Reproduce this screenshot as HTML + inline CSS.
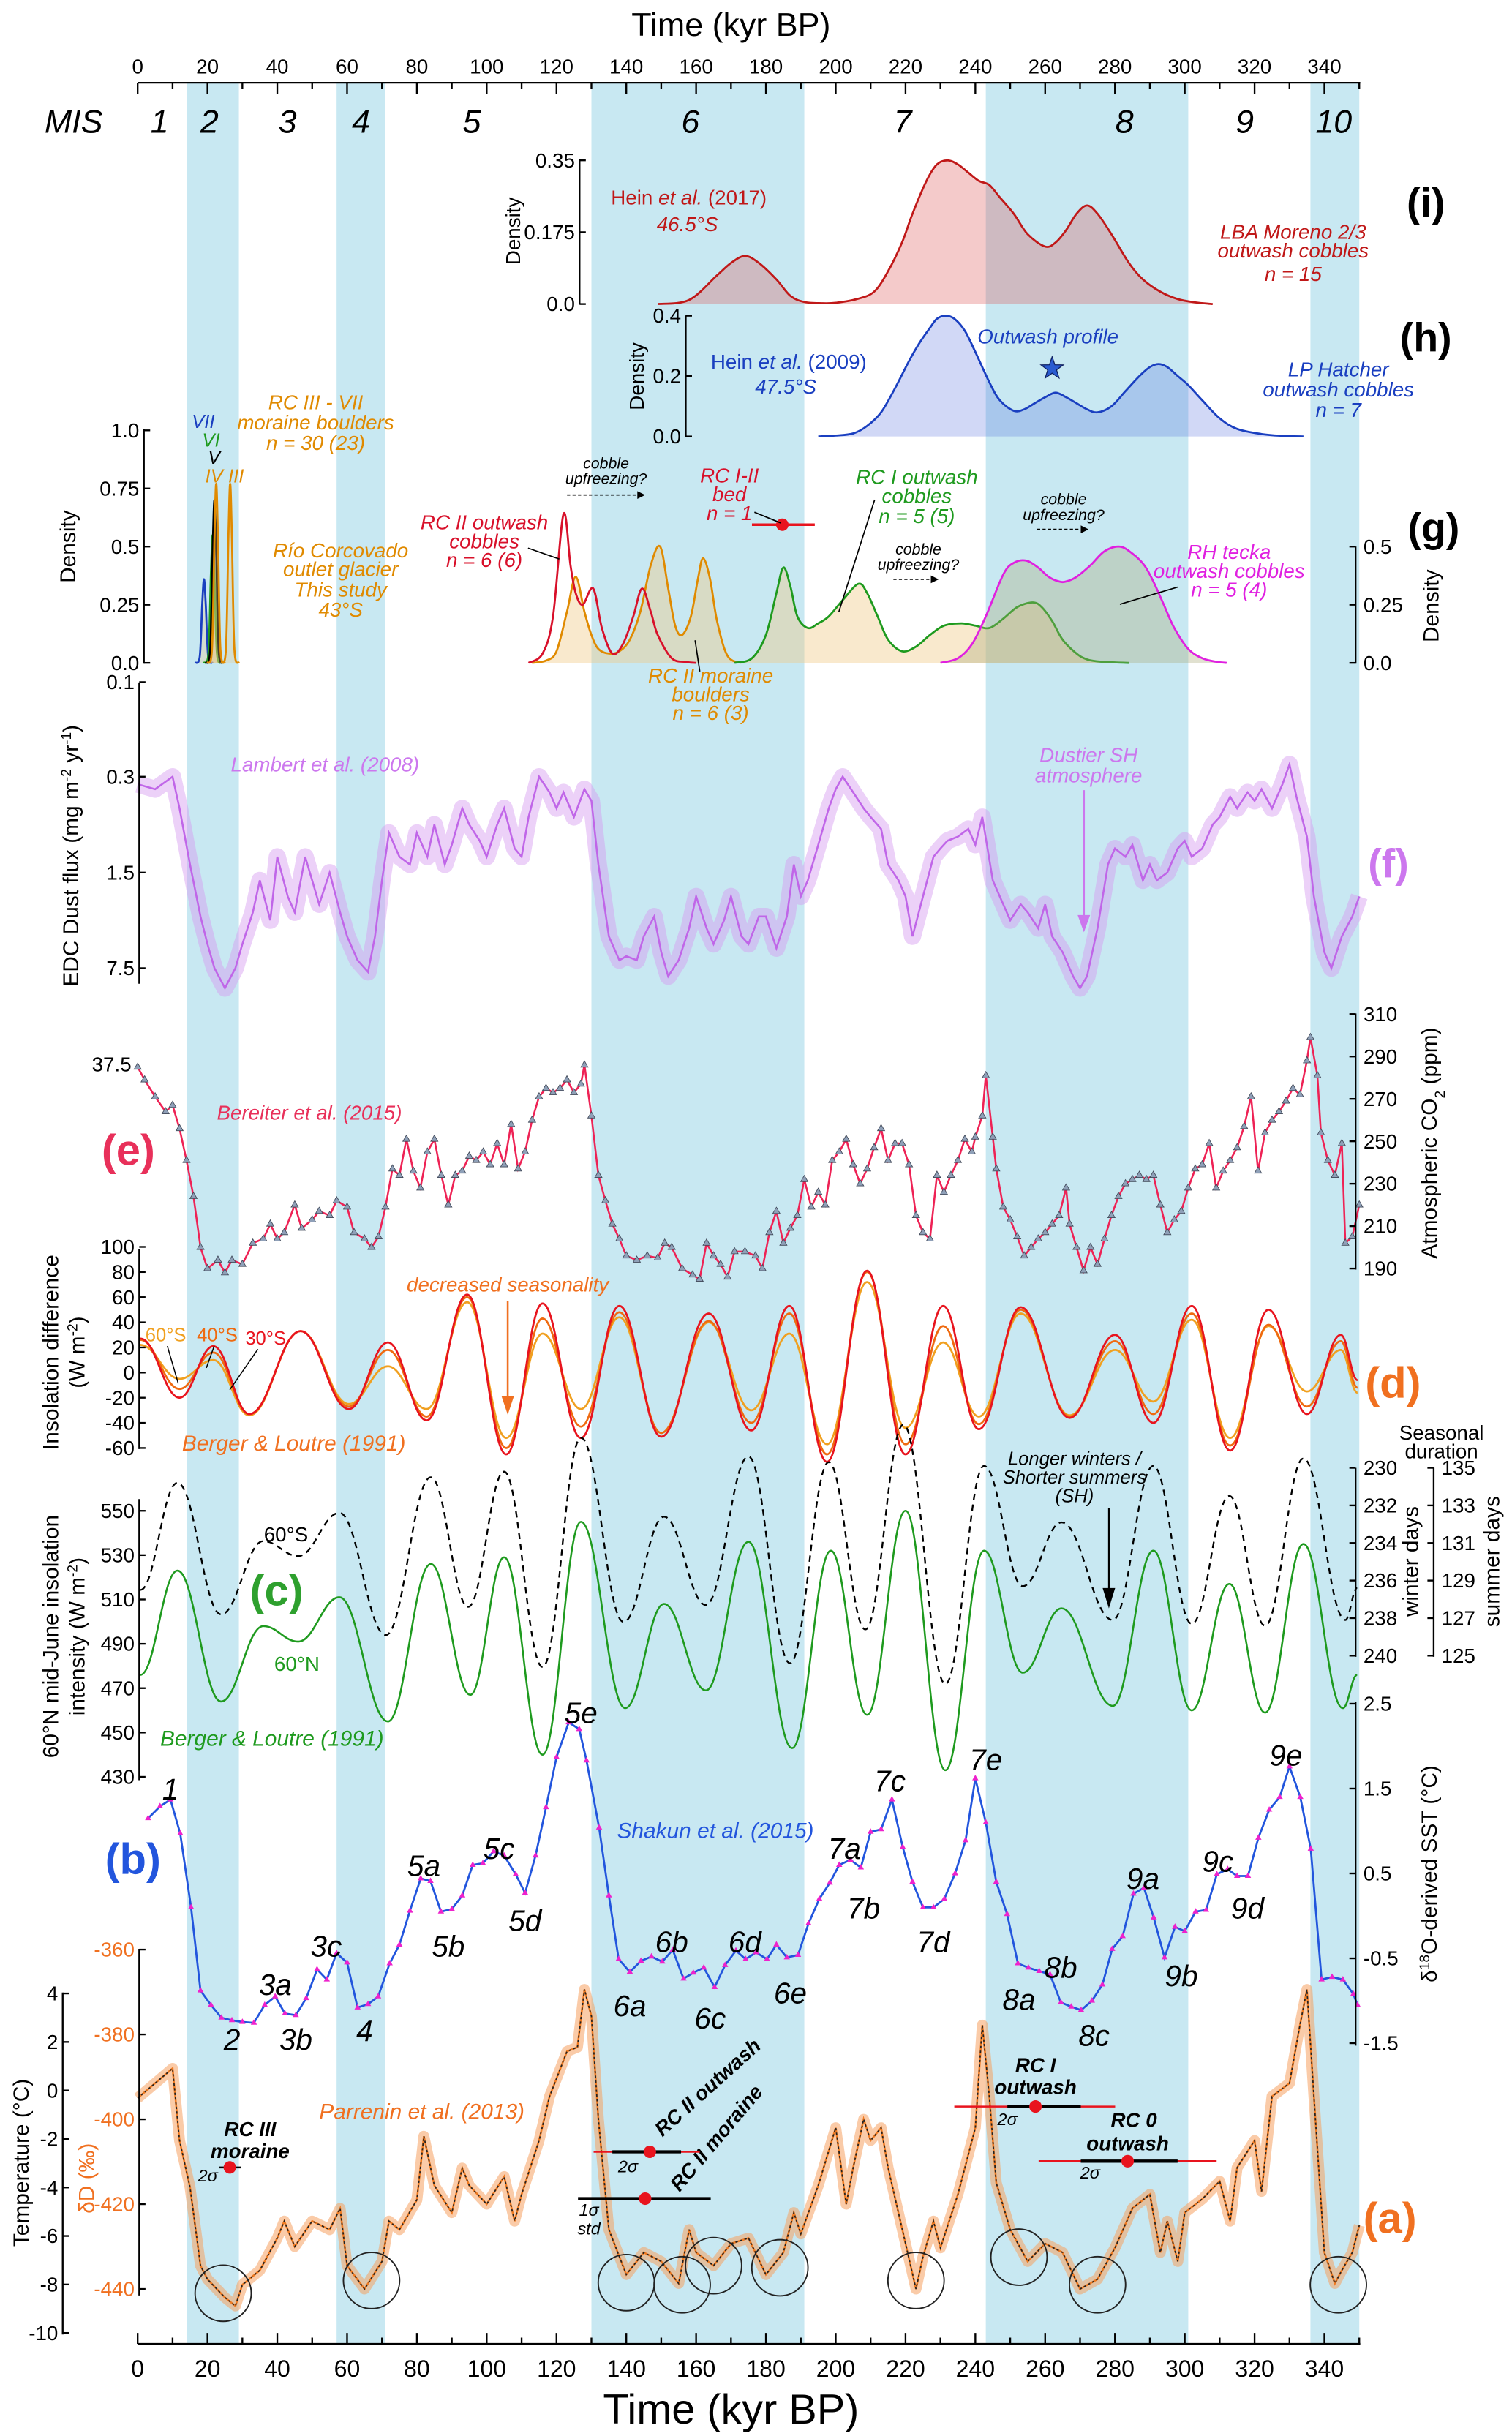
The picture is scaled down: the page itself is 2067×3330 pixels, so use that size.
<!DOCTYPE html>
<html><head><meta charset="utf-8"><style>
html,body{margin:0;padding:0;background:#fff;}
svg{display:block;font-family:"Liberation Sans Narrow","Liberation Sans",sans-serif;}
.it{font-style:italic}
.b{font-weight:bold}
</style></head><body>
<svg id="fig" width="2067" height="3330" viewBox="0 0 968 1560" xmlns="http://www.w3.org/2000/svg">
<g id="bands"></g>
<g id="plots"></g>
<g id="axes"></g>
<g id="txt" font-size="13">
 <text x="468" y="23" font-size="21" text-anchor="middle">Time (kyr BP)</text>
 <text x="468" y="1552" font-size="27" text-anchor="middle">Time (kyr BP)</text>
 <g class="it" font-size="21" text-anchor="middle">
  <text x="47" y="85">MIS</text><text x="102" y="85">1</text><text x="134" y="85">2</text><text x="184" y="85">3</text><text x="231" y="85">4</text><text x="302" y="85">5</text><text x="442" y="85">6</text><text x="578" y="85">7</text><text x="720" y="85">8</text><text x="797" y="85">9</text><text x="854" y="85">10</text>
 </g>
 <text x="441" y="131" fill="#c01818" text-anchor="middle">Hein <tspan class="it">et al.</tspan> (2017)</text>
 <text x="440" y="148" fill="#c01818" class="it" text-anchor="middle">46.5°S</text>
 <text x="828" y="153" fill="#c01818" class="it" text-anchor="middle">LBA Moreno 2/3</text>
 <text x="828" y="165" fill="#c01818" class="it" text-anchor="middle">outwash cobbles</text>
 <text x="828" y="180" fill="#c01818" class="it" text-anchor="middle">n = 15</text>
 <text x="913" y="139" font-size="26" class="b" text-anchor="middle">(i)</text>
 <text transform="translate(333,148) rotate(-90)" text-anchor="middle">Density</text>
 <text x="505" y="236" fill="#1a3fc0" text-anchor="middle">Hein <tspan class="it">et al.</tspan> (2009)</text>
 <text x="503" y="252" fill="#1a3fc0" class="it" text-anchor="middle">47.5°S</text>
 <text x="671" y="220" fill="#1a3fc0" class="it" text-anchor="middle">Outwash profile</text>
 <text x="857" y="241" fill="#1a3fc0" class="it" text-anchor="middle">LP Hatcher</text>
 <text x="857" y="254" fill="#1a3fc0" class="it" text-anchor="middle">outwash cobbles</text>
 <text x="857" y="267" fill="#1a3fc0" class="it" text-anchor="middle">n = 7</text>
 <text x="913" y="225" font-size="26" class="b" text-anchor="middle">(h)</text>
 <text transform="translate(412,241) rotate(-90)" text-anchor="middle">Density</text>
 <g class="it" font-size="12" text-anchor="middle">
 <text x="130" y="274" fill="#1a3fc0">VII</text><text x="135" y="286" fill="#1e9a1e">VI</text><text x="137" y="297" fill="#000">V</text><text x="137" y="309" fill="#e08a00">IV</text><text x="151" y="309" fill="#e08a00">III</text>
 </g>
 <g class="it" fill="#e08a00" text-anchor="middle">
  <text x="202" y="262">RC III - VII</text><text x="202" y="275">moraine boulders</text><text x="202" y="288">n = 30 (23)</text>
  <text x="218" y="357">Río Corcovado</text><text x="218" y="369">outlet  glacier</text><text x="218" y="382">This study</text><text x="218" y="395">43°S</text>
  <text x="455" y="437">RC II moraine</text><text x="455" y="449">boulders</text><text x="455" y="461">n = 6 (3)</text>
 </g>
 <g class="it" fill="#d8102a" text-anchor="middle">
  <text x="310" y="339">RC II outwash</text><text x="310" y="351">cobbles</text><text x="310" y="363">n = 6 (6)</text>
  <text x="467" y="309">RC I-II</text><text x="467" y="321">bed</text><text x="467" y="333">n = 1</text>
 </g>
 <g class="it" fill="#1e9a1e" text-anchor="middle"><text x="587" y="310">RC I outwash</text><text x="587" y="322">cobbles</text><text x="587" y="335">n = 5 (5)</text></g>
 <g class="it" fill="#e020e0" text-anchor="middle"><text x="787" y="358">RH tecka</text><text x="787" y="370">outwash cobbles</text><text x="787" y="382">n = 5 (4)</text></g>
 <g class="it" font-size="10" text-anchor="middle">
  <text x="388" y="300">cobble</text><text x="388" y="310">upfreezing?</text>
  <text x="588" y="355">cobble</text><text x="588" y="365">upfreezing?</text>
  <text x="681" y="323">cobble</text><text x="681" y="333">upfreezing?</text>
 </g>
 <g stroke="#000" stroke-width="0.8" stroke-dasharray="2,1.5" fill="none"><line x1="363" y1="317" x2="409" y2="317"/><line x1="572" y1="371" x2="597" y2="371"/><line x1="664" y1="339" x2="693" y2="339"/></g>
 <g fill="#000"><path d="M413 317 l-5 -2.5 v5z"/><path d="M601 371 l-5 -2.5 v5z"/><path d="M697 339 l-5 -2.5 v5z"/></g>
 <g stroke="#000" stroke-width="0.8" fill="none"><line x1="338" y1="351" x2="358" y2="358"/><line x1="483" y1="328" x2="500" y2="335"/><line x1="560" y1="320" x2="537" y2="392"/><line x1="754" y1="376" x2="717" y2="387"/><line x1="448" y1="430" x2="445" y2="410"/></g>
 <text x="918" y="347" font-size="26" class="b" text-anchor="middle">(g)</text>
 <text transform="translate(48,350) rotate(-90)" text-anchor="middle" font-size="14">Density</text>
 <text transform="translate(921,388) rotate(-90)" text-anchor="middle" font-size="14">Density</text>
 <text x="208" y="494" fill="#cc77ee" class="it" text-anchor="middle">Lambert et al. (2008)</text>
 <text x="697" y="488" fill="#cc77ee" class="it" text-anchor="middle">Dustier SH</text>
 <text x="697" y="501" fill="#cc77ee" class="it" text-anchor="middle">atmosphere</text>
 <line x1="694" y1="506" x2="694" y2="588" stroke="#cc77ee" stroke-width="1.2"/><path d="M694 597 l-4 -11 h8z" fill="#cc77ee"/>
 <text x="889" y="562" font-size="26" class="b" fill="#cc77ee" text-anchor="middle">(f)</text>
 <text transform="translate(50,548) rotate(-90)" text-anchor="middle" font-size="14">EDC Dust flux (mg m<tspan baseline-shift="super" font-size="9">-2</tspan> yr<tspan baseline-shift="super" font-size="9">-1</tspan>)</text>
 <text x="198" y="717" fill="#e8305a" class="it" text-anchor="middle">Bereiter et al. (2015)</text>
 <text x="82" y="746" font-size="28" class="b" fill="#e8305a" text-anchor="middle">(e)</text>
 <text x="84" y="686" font-size="13" text-anchor="end">37.5</text>
 <text transform="translate(920,732) rotate(-90)" text-anchor="middle" font-size="14">Atmospheric CO<tspan baseline-shift="sub" font-size="9">2</tspan> (ppm)</text>
 <text x="325" y="827" fill="#f07020" class="it" text-anchor="middle">decreased seasonality</text>
 <line x1="325" y1="833" x2="325" y2="895" stroke="#f07020" stroke-width="1.2"/><path d="M325 906 l-4 -12 h8z" fill="#f07020"/>
 <text x="188" y="929" fill="#f07020" class="it" text-anchor="middle" font-size="14">Berger &amp; Loutre (1991)</text>
 <text x="106" y="859" fill="#f0a020" font-size="12" text-anchor="middle">60°S</text>
 <text x="139" y="859" fill="#ef6a10" font-size="12" text-anchor="middle">40°S</text>
 <text x="170" y="861" fill="#e8141e" font-size="12" text-anchor="middle">30°S</text>
 <g stroke="#000" stroke-width="0.7"><line x1="107" y1="862" x2="114" y2="886"/><line x1="137" y1="862" x2="132" y2="876"/><line x1="165" y1="864" x2="147" y2="890"/></g>
 <text x="892" y="895" font-size="28" class="b" fill="#f07020" text-anchor="middle">(d)</text>
 <text transform="translate(37,866) rotate(-90)" text-anchor="middle" font-size="14">Insolation difference</text>
 <text transform="translate(54,866) rotate(-90)" text-anchor="middle" font-size="14">(W m<tspan baseline-shift="super" font-size="9">-2</tspan>)</text>
 <text x="183" y="987" font-size="13" text-anchor="middle">60°S</text>
 <text x="190" y="1070" font-size="13" fill="#1e9a1e" text-anchor="middle">60°N</text>
 <text x="174" y="1118" fill="#1e9a1e" class="it" text-anchor="middle" font-size="14">Berger &amp; Loutre (1991)</text>
 <text x="177" y="1028" font-size="28" class="b" fill="#2ea02e" text-anchor="middle">(c)</text>
 <g class="it" font-size="12" text-anchor="middle"><text x="688" y="938">Longer winters /</text><text x="688" y="950">Shorter summers</text><text x="688" y="962">(SH)</text></g>
 <line x1="710" y1="966" x2="710" y2="1018" stroke="#000" stroke-width="1"/><path d="M710 1030 l-4 -13 h8z" fill="#000"/>
 <text x="923" y="922" font-size="13" text-anchor="middle">Seasonal</text><text x="923" y="934" font-size="13" text-anchor="middle">duration</text>
 <text transform="translate(908,1000) rotate(-90)" text-anchor="middle" font-size="14">winter days</text>
 <text transform="translate(960,1000) rotate(-90)" text-anchor="middle" font-size="14">summer days</text>
 <text transform="translate(37,1048) rotate(-90)" text-anchor="middle" font-size="14">60°N mid-June insolation</text>
 <text transform="translate(54,1048) rotate(-90)" text-anchor="middle" font-size="14">intensity (W m<tspan baseline-shift="super" font-size="9">-2</tspan>)</text>
 <text x="458" y="1177" fill="#2255dd" class="it" text-anchor="middle" font-size="14">Shakun et al. (2015)</text>
 <text x="85" y="1200" font-size="28" class="b" fill="#2255dd" text-anchor="middle">(b)</text>
 <text transform="translate(920,1200) rotate(-90)" text-anchor="middle" font-size="14">δ<tspan baseline-shift="super" font-size="9">18</tspan>O-derived SST (°C)</text>
 <g id="mis-sub" class="it" font-size="19" text-anchor="middle"></g>
 <text x="270" y="1357" fill="#f07020" class="it" text-anchor="middle" font-size="14">Parrenin et al. (2013)</text>
 <text x="890" y="1430" font-size="28" class="b" fill="#f07020" text-anchor="middle">(a)</text>
 <text transform="translate(18,1385) rotate(-90)" text-anchor="middle" font-size="14">Temperature (°C)</text>
 <text transform="translate(60,1395) rotate(-90)" text-anchor="middle" font-size="14" fill="#f07020">δD (‰)</text>
 <g class="it b" font-size="13" text-anchor="middle">
  <text x="160" y="1368">RC III</text><text x="160" y="1382">moraine</text>
  <text x="663" y="1327">RC I</text><text x="663" y="1341">outwash</text>
  <text x="726" y="1362">RC 0</text><text x="722" y="1377">outwash</text>
  <text transform="translate(456,1340) rotate(-42)">RC II outwash</text>
  <text transform="translate(462,1372) rotate(-50)">RC II moraine</text>
 </g>
 <g class="it" font-size="11" text-anchor="middle"><text x="133" y="1397">2σ</text><text x="402" y="1391">2σ</text><text x="377" y="1419">1σ</text><text x="377" y="1431">std</text><text x="645" y="1361">2σ</text><text x="698" y="1395">2σ</text></g>
 <g stroke-width="1.2">
  <line x1="140" y1="1388" x2="154" y2="1388" stroke="#000"/>
  <line x1="380" y1="1378" x2="448" y2="1378" stroke="#e8141e"/><line x1="392" y1="1378" x2="436" y2="1378" stroke="#000" stroke-width="2"/>
  <line x1="370" y1="1408" x2="455" y2="1408" stroke="#000" stroke-width="2"/>
  <line x1="611" y1="1349" x2="714" y2="1349" stroke="#e8141e"/><line x1="645" y1="1349" x2="692" y2="1349" stroke="#000" stroke-width="2"/>
  <line x1="665" y1="1384" x2="779" y2="1384" stroke="#e8141e"/><line x1="692" y1="1384" x2="754" y2="1384" stroke="#000" stroke-width="2"/>
 </g>
 <g fill="#e8141e"><circle cx="147" cy="1388" r="4"/><circle cx="416" cy="1378" r="4"/><circle cx="413" cy="1408" r="4"/><circle cx="663" cy="1349" r="4"/><circle cx="722" cy="1384" r="4"/></g>
</g>
</svg>
<script>
const bandStart=[14,57,130,243,336];
const bandEnd=[29,71,191,301,350];
const iT=[149,158,166,170,174,178,183,187,191,196,200,206,211,215,219,222,226,229,232,235,238,241,244,247,251,255,260,263,266,269,272,275,279,284,288,293,298,303,308];
const iD=[0,0.01,0.07,0.1,0.117,0.1,0.06,0.02,0.005,0.002,0.003,0.012,0.03,0.08,0.15,0.22,0.3,0.34,0.35,0.34,0.32,0.3,0.29,0.26,0.22,0.17,0.14,0.15,0.18,0.22,0.24,0.22,0.17,0.1,0.06,0.03,0.012,0.004,0];
const hT=[195,200,205,209,213,217,221,224,227,229,231.5,234,237,240,244,247,251,254,257,260,263,266,269,272,275,279,283,287,290,292.5,295,298,301,305,310,315,322,328,334];
const hD=[0,0.003,0.01,0.035,0.08,0.16,0.25,0.31,0.36,0.39,0.4,0.39,0.35,0.28,0.18,0.12,0.085,0.09,0.11,0.13,0.145,0.13,0.11,0.09,0.08,0.1,0.15,0.2,0.23,0.24,0.23,0.2,0.17,0.12,0.06,0.025,0.008,0.002,0];
const gPeakC=[19,21.5,22,22.5,26.5];
const gPeakH=[0.36,0.55,0.70,0.77,0.77];
const gPeakCol=['#1a3fc0','#1e9a1e','#000','#e08a00','#e08a00'];
const gRedT=[112,116,119,122,124,125.5,127.5,130.5,133,136,139,142,144.5,147,149,153,157,160];
const gRedD=[0,0.04,0.2,0.64,0.42,0.3,0.25,0.32,0.15,0.04,0.08,0.2,0.32,0.22,0.12,0.02,0.004,0];
const gOrT=[113,117,120,123,125.5,128,130,132,135,138,141,144,147,149.7,152,154,156,158.5,160.5,162,164,166,169,173];
const gOrD=[0,0.01,0.05,0.22,0.37,0.22,0.12,0.06,0.04,0.05,0.1,0.22,0.42,0.5,0.32,0.16,0.12,0.2,0.36,0.45,0.36,0.18,0.03,0];
const gGrT=[171,176,180,183,185,187,189,192,195,198,202,206.5,209,212,215,219,223,227,231,236,240,244,248,252,256.4,259,262,265,269,272,276,284];
const gGrD=[0,0.02,0.12,0.3,0.41,0.33,0.2,0.15,0.17,0.2,0.27,0.34,0.3,0.2,0.1,0.05,0.07,0.12,0.16,0.17,0.16,0.15,0.19,0.24,0.26,0.24,0.18,0.1,0.04,0.015,0.005,0];
const gMgT=[230,235,239,243,248,251,254.5,258,261,264,266,269,273,277,281.4,285,288.4,291,294,297,301,305,309,312];
const gMgD=[0,0.02,0.08,0.2,0.38,0.43,0.44,0.41,0.37,0.35,0.35,0.37,0.42,0.48,0.5,0.47,0.42,0.35,0.25,0.15,0.06,0.02,0.005,0];
const dustT=[0,5,10,12,15,18,20,22,25,28,30,33,35,38,40,43,45,48,50,52,55,58,60,63,66,68,70,72,75,78,80,83,85,88,90,93,95,98,100,103,105,108,110,112,115,118,120,122,125,128,130,132,135,138,140,143,145,148,150,152,155,158,160,163,165,168,170,173,175,178,180,183,186,188,190,192,195,198,200,202,205,208,210,213,215,218,220,222,225,228,230,232,235,238,240,242,245,248,250,253,255,258,260,262,265,268,270,272,275,278,280,283,285,288,290,292,295,298,300,302,305,308,310,313,315,318,320,322,325,328,330,332,335,337,340,342,345,348,350];
const dustV=[0.34,0.37,0.30,0.51,1.31,3.14,5.0,7.5,10.5,7.5,5.0,2.93,1.71,3.35,1.15,2.24,2.93,1.15,1.71,2.56,1.5,2.93,4.39,6.56,8.0,4.39,1.71,0.77,1.15,1.31,0.77,1.15,0.67,1.31,0.94,0.51,0.67,0.88,1.15,0.67,0.51,1.0,1.15,0.59,0.30,0.39,0.51,0.39,0.59,0.37,0.45,1.31,4.39,6.56,6.13,6.56,4.39,3.14,5.73,8.6,6.56,3.83,2.24,3.83,5.0,3.35,2.24,4.39,5.0,3.14,3.14,5.36,3.14,1.31,2.24,1.71,0.94,0.51,0.37,0.30,0.39,0.51,0.59,0.72,1.31,1.71,2.24,4.39,2.24,1.15,1.0,0.88,0.82,0.72,0.94,0.59,1.71,2.56,3.35,2.56,2.93,3.83,2.56,4.39,5.73,8.6,10.5,8.6,3.83,1.31,1.0,1.15,0.94,1.71,1.31,1.71,1.5,1.0,0.88,1.15,1.0,0.67,0.59,0.42,0.51,0.39,0.45,0.37,0.51,0.34,0.26,0.42,0.82,2.24,5.73,7.5,4.39,3.14,2.24];
const dustTicks=[0.1,0.3,1.5,7.5];
const co2T=[0,2,5,8,10,12,14,16,18,20,23,25,27,30,33,36,38,40,42,45,47,50,52,55,57,60,62,65,67,69,71,73,75,77,79,81,83,85,87,89,91,93,95,97,99,101,103,105,107,109,111,113,115,117,119,121,123,125,127,128,130,132,134,136,138,140,143,146,149,151,153,156,159,161,163,165,167,169,171,174,177,179,181,183,185,187,189,191,193,195,197,199,201,203,205,207,209,211,213,215,217,219,221,223,225,227,229,231,233,235,237,239,240,242,243,245,246,248,250,252,254,256,258,260,262,264,266,267,269,271,273,275,277,279,281,283,285,287,289,291,293,295,297,299,301,303,305,307,309,311,313,315,317,319,321,323,325,327,329,331,333,335,336,338,339,341,343,345,346,348,350];
const co2V=[285,279,271,264,267,256,241,224,200,190,194,188,194,192,202,204,211,204,207,220,209,213,217,215,222,219,207,204,200,205,219,237,234,251,236,228,245,251,234,220,234,236,243,241,245,239,249,239,258,237,245,260,271,275,273,275,279,273,277,286,262,234,222,211,204,196,194,196,195,202,200,190,187,185,202,196,192,186,198,198,196,190,207,217,202,209,215,232,219,226,220,241,245,251,239,230,237,247,256,241,249,249,239,215,207,204,234,226,234,241,251,245,252,262,281,252,237,219,213,205,196,200,204,207,211,215,228,211,200,189,200,192,204,215,224,230,232,234,232,234,220,207,213,217,228,237,239,249,228,236,241,247,257,271,236,254,260,264,269,275,272,288,299,281,254,241,234,249,202,205,220];
const dT=[0.8,12,21.7,32,46.7,60.5,71.7,82.8,94.4,105.6,116,127,138,150,163.6,175.8,186.7,197.5,209,220,230.8,241,253,267,280,291,302,313,324,335,344.7,349.5];
const d30S=[27,-20,21,-33,33,-29,24,-38,62,-65,55,-52,53,-51,47,-46,53,-71,81,-65,53,-45,52,-36,30,-40,53,-62,50,-33,30,-6];
const d40S=[26,-13,16,-33,33,-27,18,-35,60,-60,43,-43,48,-48,41,-40,47,-65,80,-57,37,-41,50,-35,25,-33,47,-58,38,-27,25,-12];
const d60S=[22,-5,10,-34,33,-25,5,-29,56,-52,31,-29,44,-48,40,-30,31,-57,72,-44,24,-35,47,-34,18,-23,42,-52,37,-15,18,-16];
const cT=[0.8,11.4,23.9,36,46,57.8,71.7,84,95.3,105,116,127,139.7,150.8,162.8,175,187.5,198.6,209,220,231.4,242.5,253.6,264.7,279.4,291,302,312.8,323,334,345.3,349.4];
const c60N=[476,523,464,498,491,511,455,526,467,529,440,545,461,508,469,536,443,532,458,550,433,532,477,506,462,532,460,517,459,535,461,476];
const wT=[0.8,11.4,23.9,36,46,57.8,71.1,84,94.7,105,116,127,139.2,150.8,162.8,175,186.9,198,208.5,219.4,231.4,242.5,253.6,264.7,279.4,291,302,312.8,323,334,346,349.4];
const wDays=[236.5,230.8,237.8,233.9,234.7,232.4,238.9,230.5,237.4,230.2,240.6,228.4,238.2,232.6,237.3,229.4,240.4,229.7,238.6,227.7,241.5,229.9,236.3,232.9,238.1,229.9,238.3,231.5,238.4,229.5,238.1,236.4];
const sstT=[3,6.4,9.4,12.2,15.3,18,21,24,27,30,33.3,36.4,39.4,42.2,45.3,48.3,51.4,54.2,57,60,63,66,68.9,72.2,75,78,81.1,83.9,86.9,90,93,96,98.9,102,105,108.3,111,114,117,120,123.5,126.5,128.6,132.2,135,137.8,141,144.2,147.2,150.3,153.3,156.4,159.2,162.2,165.3,168.3,171.4,174.2,177.2,180.3,183,186,189.2,192.2,195.3,198.3,201,204.2,207.2,210,213,216.1,219.2,222,225,228,231.1,234.2,237.2,240,243,246,249.1,252.2,255.2,258.3,261.4,264.5,267.5,270.3,273.4,276.4,279.2,282.2,285.3,288.3,291.1,294.2,297.2,300,303.1,306.1,309.2,312.3,315,318.1,321.1,324.2,327.2,330,333.1,336.1,339.2,342.2,345.3,348.3,349.5];
const sstV=[1.15,1.29,1.37,0.97,0.10,-0.88,-1.05,-1.2,-1.23,-1.25,-1.26,-1.05,-0.95,-1.15,-1.17,-0.97,-0.63,-0.75,-0.44,-0.55,-1.08,-1.04,-0.95,-0.56,-0.34,0.06,0.44,0.41,0.05,0.08,0.24,0.60,0.62,0.76,0.71,0.49,0.27,0.71,1.28,1.87,2.28,2.2,1.83,1.04,0.24,-0.51,-0.66,-0.53,-0.48,-0.54,-0.40,-0.74,-0.67,-0.61,-0.84,-0.58,-0.41,-0.51,-0.43,-0.51,-0.34,-0.49,-0.46,-0.09,0.20,0.39,0.60,0.66,0.57,0.99,1.02,1.37,0.81,0.40,0.10,0.10,0.20,0.50,0.89,1.62,1.10,0.40,0.02,-0.56,-0.61,-0.65,-0.69,-1.02,-1.07,-1.11,-1.0,-0.81,-0.39,-0.24,0.26,0.33,-0.02,-0.49,-0.13,-0.18,0.05,0.07,0.49,0.55,0.47,0.47,0.92,1.25,1.40,1.76,1.40,0.79,-0.75,-0.72,-0.75,-0.92,-1.05];
const subLabels=['1','2','3a','3b','3c','4','5a','5b','5c','5d','5e','6a','6b','6c','6d','6e','7a','7b','7c','7d','7e','8a','8b','8c','9a','9b','9c','9d','9e'];
const subT=[9.4,27,39.4,45.3,54,65,82,89,103.5,111,127,141,153,164,174,187,202.5,208,215.5,228,243,252.5,264.5,274,288,299,309.5,318,329];
const subV=[1.5,-1.45,-0.8,-1.45,-0.35,-1.35,0.6,-0.35,0.8,-0.05,2.4,-1.05,-0.3,-1.2,-0.3,-0.9,0.8,0.1,1.6,-0.3,1.85,-0.98,-0.6,-1.4,0.45,-0.7,0.65,0.1,1.9];
const ddT=[0,5,10,12,15,18,20,25,28,30,35,40,42,45,50,55,58,60,65,70,72,75,80,82,85,90,93,95,100,105,108,110,115,118,120,123,126,128,130,132,135,140,145,150,155,158,160,165,170,175,180,185,188,190,195,200,203,205,208,210,213,215,220,223,225,228,230,235,238,240,242,244,246,250,255,260,265,270,275,280,285,290,293,295,298,300,305,310,313,315,320,322,325,330,333,335,337,340,343,345,348,350];
const ddV=[-395,-391.5,-388,-405,-416,-434.5,-437.7,-442,-444,-439,-435.6,-428,-424,-430,-424,-426,-421,-434.5,-440,-433.5,-424,-426,-419,-404,-415.6,-422,-411.5,-415.6,-420,-413.5,-424,-417.7,-405,-394.6,-390.4,-384,-383,-369.4,-375.7,-400,-426,-436.6,-431.4,-433.5,-438.7,-426,-431.4,-434.5,-429.3,-428,-436.6,-431.4,-422,-427,-415.6,-402,-420,-411.4,-400,-405,-402,-411.4,-429.3,-440,-432.4,-424,-430.3,-417.7,-408.3,-402,-377.8,-394.6,-415,-426,-433.5,-429.3,-431.4,-440,-437.7,-430.3,-421,-417.7,-431.4,-424,-433.5,-422,-418.8,-414.6,-424,-411.4,-405,-417,-394.6,-391.5,-377.8,-369.4,-394.6,-431.4,-438.7,-435.6,-431.4,-425];
const circT=[24.5,67,140,156,165,184,223,252.5,275,344];
const circV=[-441,-438,-438.5,-439,-434.5,-435,-438,-432.5,-439,-439];

const X=t=>88+t*2.2353;
const yI=d=>194.7-d*262.9, yH=d=>279.5-d*193.25, yG=d=>424.5-d*148.9;
const dustY=[436.8,497.4,558.8,620];
function yF(v){const Lg=Math.log(v);let i=0;while(i<2&&Lg>Math.log(dustTicks[i+1]))i++;const a=Math.log(dustTicks[i]),b=Math.log(dustTicks[i+1]);return dustY[i]+(Lg-a)/(b-a)*(dustY[i+1]-dustY[i]);}
const yE=p=>649.4+(310-p)*1.358;
const yD=v=>879-0.805*v;
const yC=v=>967.5+(550-v)*1.42;
const yW=d=>940+(d-230)*12.03;
const yS=d=>940+(135-d)*12.03;
const yB=v=>1145.4+(1.5-v)*54.35;
const yA=v=>1248.5-(v+360)*2.717;
const yTmp=T=>1276.6+(4-T)*15.53;

const NS='http://www.w3.org/2000/svg';
function el(tag,parent){const e=document.createElementNS(NS,tag);parent.appendChild(e);return e;}
function setA(e,o){for(const k in o)e.setAttribute(k,o[k]);return e;}
function lineD(xs,ys){return xs.map((x,i)=>(i?'L':'M')+x.toFixed(2)+' '+ys[i].toFixed(2)).join(' ');}
function crD(xs,ys){let d='M'+xs[0].toFixed(2)+' '+ys[0].toFixed(2);for(let i=0;i<xs.length-1;i++){const x0=xs[Math.max(i-1,0)],y0=ys[Math.max(i-1,0)],x1=xs[i],y1=ys[i],x2=xs[i+1],y2=ys[i+1],x3=xs[Math.min(i+2,xs.length-1)],y3=ys[Math.min(i+2,xs.length-1)];d+=' C'+(x1+(x2-x0)/6).toFixed(2)+' '+(y1+(y2-y0)/6).toFixed(2)+' '+(x2-(x3-x1)/6).toFixed(2)+' '+(y2-(y3-y1)/6).toFixed(2)+' '+x2.toFixed(2)+' '+y2.toFixed(2);}return d;}
function sineD(xs,ys){let d='M'+xs[0].toFixed(2)+' '+ys[0].toFixed(2);for(let i=0;i<xs.length-1;i++){const dx=(xs[i+1]-xs[i])*0.4;d+=' C'+(xs[i]+dx).toFixed(2)+' '+ys[i].toFixed(2)+' '+(xs[i+1]-dx).toFixed(2)+' '+ys[i+1].toFixed(2)+' '+xs[i+1].toFixed(2)+' '+ys[i+1].toFixed(2);}return d;}

const bands=document.getElementById('bands'),plots=document.getElementById('plots'),axes=document.getElementById('axes'),sub=document.getElementById('mis-sub');
bandStart.forEach((s,i)=>{const r=el('rect',bands);setA(r,{x:X(s),y:53,width:X(bandEnd[i])-X(s),height:1448,fill:'#c8e8f2'});

});

function addPath(d,attrs,name){const p=el('path',plots);setA(p,attrs);p.setAttribute('d',d);


return p;}
function kde(ts,ds,yf,stroke,fill,name){const xs=ts.map(X),ys=ds.map(yf);const c=crD(xs,ys);
if(fill)addPath(c+' L'+xs[xs.length-1]+' '+yf(0)+' L'+xs[0]+' '+yf(0)+'Z',{fill:fill,stroke:'none'},name+'-fill');
addPath(c,{fill:'none',stroke:stroke,'stroke-width':1.3},name);}
kde(iT,iD,yI,'#c01818','rgba(220,90,90,0.32)','kde-hein-2017');
kde(hT,hD,yH,'#1a3fc0','rgba(70,100,220,0.25)','kde-hein-2009');
kde(gOrT,gOrD,yG,'#e08a00','rgba(240,200,130,0.4)','kde-rc-ii-moraine');
kde(gGrT,gGrD,yG,'#1e9a1e','rgba(240,200,130,0.4)','kde-rc-i-outwash');
kde(gMgT,gMgD,yG,'#e020e0','rgba(170,170,120,0.35)','kde-rh-tecka');
kde(gRedT,gRedD,yG,'#d8102a',null,'kde-rc-ii-outwash');
gPeakC.forEach((c,i)=>{const h=gPeakH[i];kde([c-2.5,c-1.2,c-0.5,c,c+0.5,c+1.2,c+2.5],[0,h*0.08,h*0.7,h,h*0.7,h*0.08,0],yG,gPeakCol[i],'rgba(240,200,130,0.3)','kde-rc-boulder-peak');});
{const l=el('line',plots);setA(l,{x1:X(176),x2:X(194),y1:336,y2:336,stroke:'#e8141e','stroke-width':1.6});


const c=el('circle',plots);setA(c,{cx:X(184.7),cy:336,r:4,fill:'#e8141e'});

}
{const s=el('path',plots);const cx=X(262),cy=236;let d='';for(let k=0;k<10;k++){const r=k%2?3:7.5,a=-Math.PI/2+k*Math.PI/5;d+=(k?'L':'M')+(cx+r*Math.cos(a)).toFixed(2)+' '+(cy+r*Math.sin(a)).toFixed(2);}setA(s,{d:d+'Z',fill:'#2a5bd0',stroke:'#102060','stroke-width':0.6});

}
{const xs=dustT.map(X),ys=dustV.map(yF);const d=lineD(xs,ys);
addPath(d,{fill:'none',stroke:'#d49af0','stroke-width':11,'stroke-opacity':0.45,'stroke-linejoin':'round'},'dust-flux-band');
addPath(d,{fill:'none',stroke:'#c066e8','stroke-width':1.2},'dust-flux-line');}
{const xs=co2T.map(X),ys=co2V.map(yE);addPath(lineD(xs,ys),{fill:'none',stroke:'#ee2255','stroke-width':1.2},'co2-line');
xs.forEach((x,i)=>{const m=el('path',plots);setA(m,{d:'M'+x.toFixed(2)+' '+(ys[i]-2.6).toFixed(2)+' l2.3 4 h-4.6z',fill:'#8fa0b8',stroke:'#404858','stroke-width':0.4});

});}
addPath(sineD(dT.map(X),d60S.map(yD)),{fill:'none',stroke:'#f0a020','stroke-width':1.3},'insolation-diff-60s');
addPath(sineD(dT.map(X),d40S.map(yD)),{fill:'none',stroke:'#ef6a10','stroke-width':1.3},'insolation-diff-40s');
addPath(sineD(dT.map(X),d30S.map(yD)),{fill:'none',stroke:'#e8141e','stroke-width':1.3},'insolation-diff-30s');
addPath(sineD(wT.map(X),wDays.map(yW)),{fill:'none',stroke:'#000','stroke-width':1.1,'stroke-dasharray':'4,3'},'winter-days-60s');
addPath(sineD(cT.map(X),c60N.map(yC)),{fill:'none',stroke:'#1e9a1e','stroke-width':1.2},'insolation-60n');
{const xs=sstT.map(X),ys=sstV.map(yB);addPath(lineD(xs,ys),{fill:'none',stroke:'#2255dd','stroke-width':1.3},'sst-line');
xs.forEach((x,i)=>{const m=el('path',plots);setA(m,{d:'M'+x.toFixed(2)+' '+(ys[i]-2.3).toFixed(2)+' l2 3.5 h-4z',fill:'#ee22cc'});

});
subLabels.forEach((s,i)=>{const t=el('text',sub);setA(t,{x:X(subT[i]).toFixed(1),y:(yB(subV[i])+7).toFixed(1)});t.textContent=s;

});}
{const xs=ddT.map(X),ys=ddV.map(yA);const d=lineD(xs,ys);
addPath(d,{fill:'none',stroke:'#f5a060','stroke-width':7,'stroke-opacity':0.55,'stroke-linejoin':'round'},'deuterium-band');
addPath(d,{fill:'none',stroke:'#f07a20','stroke-width':1.2},'deuterium-line');
addPath(d,{fill:'none',stroke:'#222','stroke-width':0.8,'stroke-dasharray':'1.5,1.5'},'temperature-line');
circT.forEach((t,i)=>{const c=el('circle',plots);setA(c,{cx:X(t),cy:yA(circV[i]),r:18,fill:'none',stroke:'#222','stroke-width':0.9});

});}

function Ln(x1,y1,x2,y2,name){const l=el('line',axes);setA(l,{x1:x1,y1:y1,x2:x2,y2:y2,stroke:'#000','stroke-width':1.1});

}
function Tx(x,y,s,anchor,size,fill,name){const t=el('text',axes);setA(t,{x:x,y:y,'text-anchor':anchor,'font-size':size,fill:fill||'#000'});t.textContent=s;

}
Ln(88,53,871,53,'top-x-axis');Ln(88,1501,871,1501,'bottom-x-axis');
for(let t=0;t<=350;t+=10){const big=t%20===0;Ln(X(t),53,X(t),big?60:57,'top-x-tick');Ln(X(t),1501,X(t),big?1494:1497,'bottom-x-tick');
if(big&&t<=340){Tx(X(t),47,String(t),'middle',13,null,'top-x-tick-label');Tx(X(t),1522,String(t),'middle',15,null,'bottom-x-tick-label');}}
function yAxis(x,y1,y2,vals,yf,side,fmt,fill,name){Ln(x,y1,x,y2,name);vals.forEach(v=>{const y=yf(v);Ln(x,y,x+(side<0?4:-4),y,name+'-tick');Tx(side<0?x-3:x+5,y+4.5,fmt?fmt(v):String(v),side<0?'end':'start',13,fill,name+'-label');});}
yAxis(371,102,195,[0.35,0.175,0.0],yI,-1,v=>v===0?'0.0':String(v),null,'panel-i-y-axis');
yAxis(439,202,280,[0.4,0.2,0.0],yH,-1,v=>v.toFixed(1),null,'panel-h-y-axis');
yAxis(92,275,425,[1.0,0.75,0.5,0.25,0.0],yG,-1,v=>v===1?'1.0':v===0?'0.0':String(v),null,'panel-g-left-y-axis');
yAxis(868,350,425,[0.5,0.25,0.0],yG,1,v=>v===0?'0.0':String(v),null,'panel-g-right-y-axis');
yAxis(89,437,630,dustTicks,yF,-1,null,null,'dust-y-axis');
yAxis(868,649,813,[310,290,270,250,230,210,190],yE,1,null,null,'co2-y-axis');
yAxis(89,800,928,[100,80,60,40,20,0,-20,-40,-60],yD,-1,null,null,'insolation-diff-y-axis');
yAxis(89,960,1140,[550,530,510,490,470,450,430],yC,-1,null,null,'insolation-60n-y-axis');
yAxis(868,940,1061,[230,232,234,236,238,240],yW,1,null,null,'winter-days-axis');
yAxis(918,940,1061,[135,133,131,129,127,125],yS,1,null,null,'summer-days-axis');
yAxis(868,1090,1310,[2.5,1.5,0.5,-0.5,-1.5],yB,1,null,null,'sst-y-axis');
yAxis(89,1248,1470,[-360,-380,-400,-420,-440],yA,-1,null,'#f07020','deuterium-y-axis');
yAxis(40,1276,1495,[4,2,0,-2,-4,-6,-8,-10],yTmp,-1,null,null,'temperature-y-axis');
</script>
</body></html>
